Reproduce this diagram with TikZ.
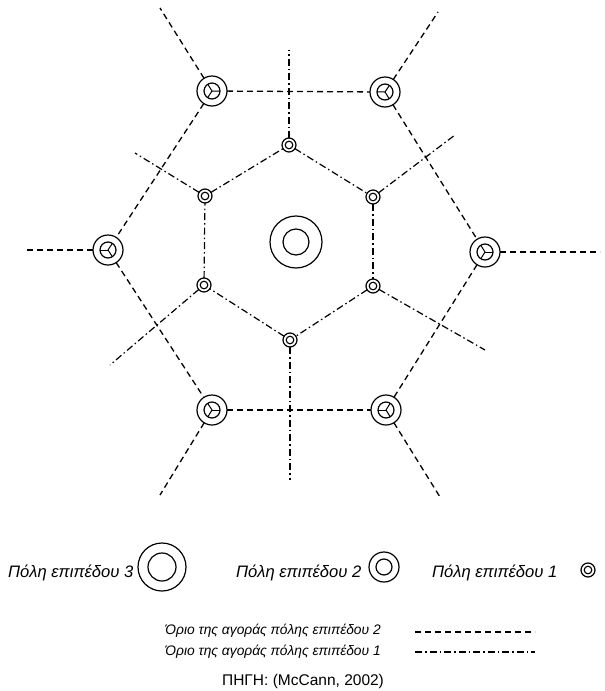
\documentclass[tikz,border=0pt]{standalone}
\usepackage{fontspec}
\setmainfont{Liberation Sans}
\usetikzlibrary{calc}
\tikzset{
  city/.style={circle,draw,line width=1.2pt,inner sep=0pt,outer sep=0pt},
  cityC/.style={city,minimum size=52pt,
    path picture={\draw[line width=1.2pt] (path picture bounding box.center) circle (13pt);}},
  cityB/.style={city,minimum size=30pt,
    path picture={\draw[line width=1.2pt] (path picture bounding box.center) circle (8pt);}},
  cityA/.style={city,minimum size=14pt,
    path picture={\draw[line width=1.1pt] (path picture bounding box.center) circle (3.8pt);}},
  legC/.style={city,minimum size=48pt,
    path picture={\draw[line width=1.2pt] (path picture bounding box.center) circle (14pt);}},
  bound2/.style={line width=1.3pt,dash pattern=on 6pt off 4pt},
  bound1/.style={line width=1.2pt,dash pattern=on 7pt off 3pt on 1.5pt off 3pt},
  hand/.style={line width=1pt},
  lbl/.style={anchor=west,inner sep=0pt,font=\fontsize{16.6}{18}\selectfont\itshape},
  keylbl/.style={anchor=west,inner sep=0pt,font=\fontsize{13.8}{16}\selectfont\itshape},
  srclbl/.style={inner sep=0pt,font=\fontsize{15.5}{18}\selectfont},
}
\begin{document}
\begin{tikzpicture}[x=1pt,y=-1pt]
\useasboundingbox (0,0) rectangle (605,691);

% central (level 3) city
\node[cityC] (C) at (296,242) {};

% level 2 cities
\node[cityB] (A)  at (212,91)  {};
\node[cityB] (B)  at (385,92)  {};
\node[cityB] (Lt) at (108,250) {};
\node[cityB] (Rt) at (485,252) {};
\node[cityB] (D)  at (212,410) {};
\node[cityB] (E)  at (386,410) {};

% level 1 cities
\node[cityA] (s1) at (289,145) {};
\node[cityA] (s2) at (373,197) {};
\node[cityA] (s3) at (373,286) {};
\node[cityA] (s4) at (290,340) {};
\node[cityA] (s5) at (204,285) {};
\node[cityA] (s6) at (205,196) {};

% open ends of the market boundaries
\coordinate (a1) at (160,8);
\coordinate (b1) at (438,12);
\coordinate (l1) at (25,250);
\coordinate (r1) at (600,252);
\coordinate (d1) at (160,495);
\coordinate (e1) at (440,497);

\coordinate (t1) at (289,50);
\coordinate (t2) at (455,135);
\coordinate (t3) at (485,350);
\coordinate (t4) at (290,480);
\coordinate (t5) at (110,365);
\coordinate (t6) at (135,153);

% level 2 market boundaries
\draw[bound2] (A) -- (B);
\draw[bound2] (A) -- (a1);
\draw[bound2] (A) -- (Lt);
\draw[bound2] (B) -- (b1);
\draw[bound2] (B) -- (Rt);
\draw[bound2] (Lt) -- (l1);
\draw[bound2] (Lt) -- (D);
\draw[bound2] (Rt) -- (r1);
\draw[bound2] (Rt) -- (E);
\draw[bound2] (D) -- (E);
\draw[bound2] (D) -- (d1);
\draw[bound2] (E) -- (e1);

% hands inside the level 2 cities
\foreach \c/\n in {A/B,A/a1,A/Lt,B/A,B/b1,B/Rt,Lt/l1,Lt/A,Lt/D,Rt/r1,Rt/B,Rt/E,D/E,D/Lt,D/d1,E/D,E/Rt,E/e1}
  \draw[hand] (\c.center) -- ($(\c.center)!8pt!(\n)$);

% level 1 market boundaries
\draw[bound1] (s1) -- (s2);
\draw[bound1] (s2) -- (s3);
\draw[bound1] (s3) -- (s4);
\draw[bound1] (s4) -- (s5);
\draw[bound1] (s5) -- (s6);
\draw[bound1] (s6) -- (s1);
\draw[bound1] (s1) -- (t1);
\draw[bound1] (s2) -- (t2);
\draw[bound1] (s3) -- (t3);
\draw[bound1] (s4) -- (t4);
\draw[bound1] (s5) -- (t5);
\draw[bound1] (s6) -- (t6);

% legend: city levels
\node[lbl] (k3) at (8,573) {Πόλη επιπέδου 3};
\node[legC] (g3) at (162,567) {};
\node[lbl] (k2) at (236,573) {Πόλη επιπέδου 2};
\node[cityB] (g2) at (384,567) {};
\node[lbl] (k1) at (432,573) {Πόλη επιπέδου 1};
\node[cityA] (g1) at (588,570) {};

% legend: boundaries
\node[keylbl] (m2) at (165,631) {Όριο της αγοράς πόλης επιπέδου 2};
\node[keylbl] (m1) at (165,652) {Όριο της αγοράς πόλης επιπέδου 1};
\coordinate (q2a) at (415,632);
\coordinate (q2b) at (535,632);
\coordinate (q1a) at (415,652);
\coordinate (q1b) at (535,652);
\draw[bound2,line width=1.1pt] (q2a) -- (q2b);
\draw[bound1,line width=1.1pt] (q1a) -- (q1b);

% source
\node[srclbl] (src) at (303,681) {ΠΗΓΗ: (McCann, 2002)};
\end{tikzpicture}
\end{document}
